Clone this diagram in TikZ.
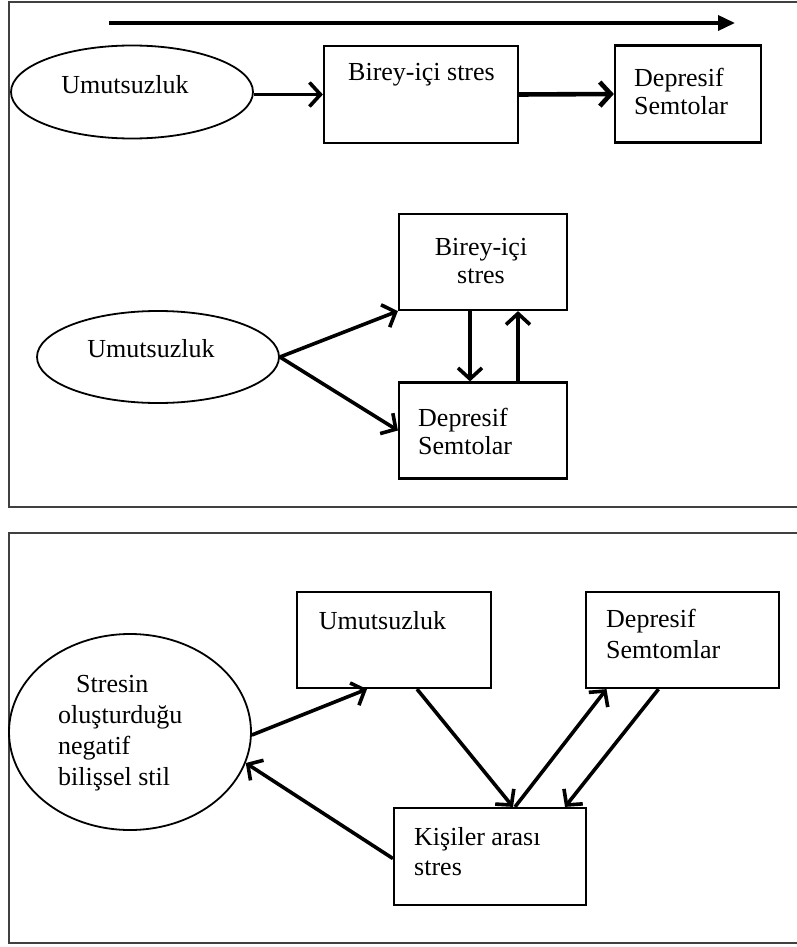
\documentclass[tikz,border=0pt]{standalone}
\usepackage{fontspec}
\setmainfont{Liberation Serif}
\usetikzlibrary{arrows.meta,shapes.geometric}
\tikzset{
	kutu/.style={draw, line width=2.2pt, rectangle, inner sep=0pt},
	elips/.style={draw, line width=1.8pt, ellipse, inner sep=0pt},
	yazi/.style={inner sep=0pt, font=\fontsize{26}{28}\selectfont},
	ok/.style={line width=3.6pt, -{Straight Barb[length=11pt,width=24pt]}},
	uzunok/.style={line width=3.6pt, -{Triangle[length=17pt,width=15pt]}},
	cerceve/.style={draw=black!75, line width=2.4pt}
}

\begin{document}
\begin{tikzpicture}[x=1pt, y=-1pt]
			%%%%% START %%%%%
			\useasboundingbox (0,0) rectangle (797,947);
			\draw[cerceve] (797,2) -- (9,2) -- (9,507) -- (797,507);
			\draw[cerceve] (797,533) -- (9,533) -- (9,943) -- (797,943);
			
			% ust model
			\coordinate (oka) at (109,23);
			\coordinate (okb) at (735,23);
			\draw[uzunok] (oka) -- (okb);
			
			\node[elips, minimum width=242pt, minimum height=93pt] (u1) at (132,92) {};
			\node[yazi] (u1y) at (125,85) {Umutsuzluk};
			\node[kutu, minimum width=194pt, minimum height=97pt] (b1) at (421,94.5) {};
			\node[yazi] (b1y) at (421.5,75) {Birey-içi stres};
			\node[kutu, minimum width=146pt, minimum height=97pt] (d1) at (688,94) {};
			\node[yazi, anchor=west, align=left] (d1y) at (634,91) {Depresif\\Semtolar};
			
			\draw[ok] (u1.east |- b1.west) -- (b1.west);
			\draw[ok, line width=4.6pt] (b1.east) -- (d1.west);
			
			% ikinci model
			\node[kutu, minimum width=168pt, minimum height=96pt] (b2) at (483,262) {};
			\node[yazi, align=center] (b2y) at (481,261) {Birey-içi\\stres};
			\node[kutu, minimum width=168pt, minimum height=96pt] (d2) at (483,430.5) {};
			\node[yazi, anchor=west, align=left] (d2y) at (418,431.5) {Depresif\\Semtolar};
			\node[elips, minimum width=242pt, minimum height=92pt] (u2) at (158,357) {};
			\node[yazi] (u2y) at (151,349) {Umutsuzluk};
			
			\draw[ok] (u2.east) -- (b2.south west);
			\draw[ok] (u2.east) -- (d2.west);
			\draw[ok] ([xshift=-13pt]b2.south) -- ([xshift=-13pt]d2.north);
			\draw[ok] ([xshift=35pt]d2.north) -- ([xshift=35pt]b2.south);
			
			% alt model
			\node[kutu, minimum width=194pt, minimum height=96pt] (um) at (394,640) {};
			\node[yazi] (umy) at (382.5,621) {Umutsuzluk};
			\node[kutu, minimum width=193pt, minimum height=96pt] (dp) at (682.5,640) {};
			\node[yazi, anchor=west, align=left, font=\fontsize{26}{31}\selectfont] (dpy) at (606,634) {Depresif\\Semtomlar};
			\node[kutu, minimum width=192pt, minimum height=97pt] (ks) at (490,856.5) {};
			\node[yazi, anchor=west, align=left, font=\fontsize{26}{30}\selectfont] (ksy) at (414,852) {Kişiler arası\\stres};
			\node[elips, minimum width=242pt, minimum height=196pt] (st) at (130,732) {};
			\node[yazi, anchor=west, align=left, font=\fontsize{26}{31}\selectfont] (sty) at (58,733.5) {\hspace*{18pt}Stresin\\oluşturduğu\\negatif\\bilişsel stil};
			
			\draw[ok] ([yshift=-3pt]st.east) -- ([xshift=-27pt]um.south);
			\draw[ok] ([xshift=23pt]um.south) -- ([xshift=23pt]ks.north);
			\draw[ok] ([xshift=25pt]ks.north) -- ([xshift=-76pt]dp.south);
			\draw[ok] ([xshift=-24pt]dp.south) -- ([xshift=75pt]ks.north);
			\draw[ok] ([yshift=-2pt]ks.west) -- (st.-15);
			%%%%% END %%%%%
\end{tikzpicture}
\end{document}
